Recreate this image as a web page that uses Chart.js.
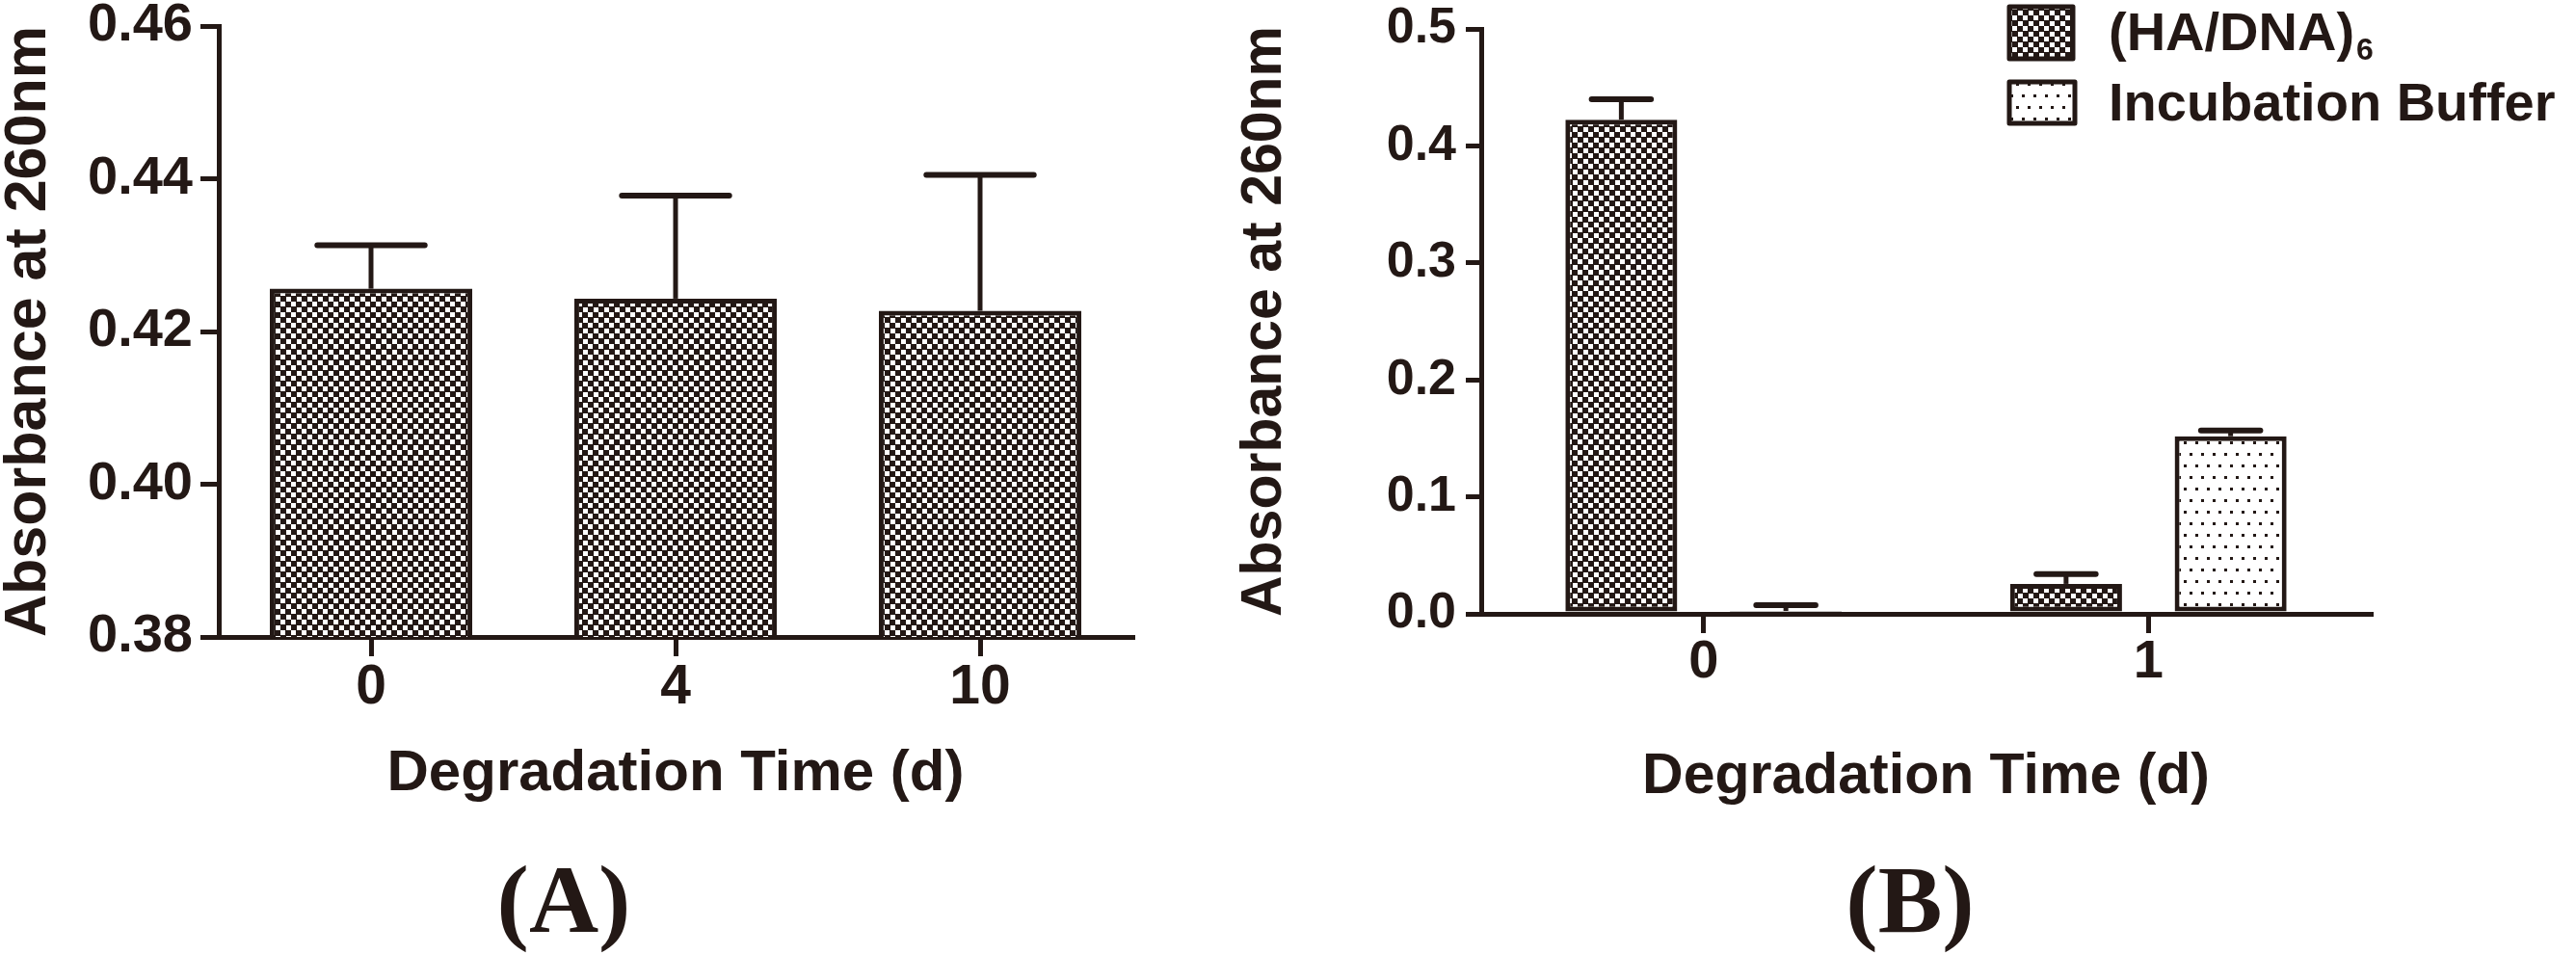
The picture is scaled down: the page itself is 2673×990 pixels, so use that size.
<!DOCTYPE html>
<html>
<head>
<meta charset="utf-8">
<script src="https://cdn.jsdelivr.net/npm/chart.js@4.4.1/dist/chart.umd.min.js"></script>
<style>
  html, body { margin: 0; padding: 0; background: #fff; }
  body { width: 2673px; height: 990px; position: relative; overflow: hidden; }
  canvas { position: absolute; top: 0; }
  #chartA { left: 0; }
  #chartB { left: 1280px; }
  .panel {
    position: absolute; top: 884px; width: 300px; text-align: center;
    font-family: "Liberation Serif", "Times New Roman", serif;
    font-weight: bold; font-size: 100px; line-height: 100px; color: #231815;
  }
</style>
</head>
<body>
<canvas id="chartA" width="1280" height="850"></canvas>
<canvas id="chartB" width="1393" height="850"></canvas>
<div class="panel" style="left:435px">(A)</div>
<div class="panel" style="left:1832px">(B)</div>
<script>
// panel A data
const daysA = ['0', '4', '10'];
const meanA = [0.4256, 0.4243, 0.4227];
const sdA = [0.0057, 0.0135, 0.0178];
const ticksA = [0.38, 0.40, 0.42, 0.44, 0.46];

// panel B data
const daysB = ['0', '1'];
const seriesB = ['(HA/DNA)', 'Incubation Buffer'];
const seriesSub = ['6', ''];
const meanHA = [0.4224, 0.0256];
const sdHA = [0.0174, 0.0084];
const meanBuffer = [0.0025, 0.1518];
const sdBuffer = [0.0049, 0.0049];
const ticksB = [0, 0.1, 0.2, 0.3, 0.4, 0.5];

const INK = '#231815';
const SANS = '"Liberation Sans", Arial, sans-serif';

function font(size) {
    return { family: SANS, weight: 'bold', size: size, lineHeight: 1 };
}

//checker fill
function checkerPattern() {
    const c = document.createElement('canvas');
    c.width = 11; c.height = 11;
    const g = c.getContext('2d');
    g.fillStyle = INK;
    g.fillRect(0, 0, 11, 11);
    g.fillStyle = '#fff';
    g.fillRect(0, 0, 5, 5);
    g.fillRect(5, 5, 5, 5);
    return g.createPattern(c, 'repeat');
}

//dotted fill
function dotPattern() {
    const c = document.createElement('canvas');
    c.width = 12; c.height = 24;
    const g = c.getContext('2d');
    g.fillStyle = '#fff';
    g.fillRect(0, 0, 12, 24);
    g.fillStyle = INK;
    g.fillRect(2, 2, 3, 3);
    g.fillRect(8, 14, 3, 3);
    return g.createPattern(c, 'repeat');
}

const checker = checkerPattern();
const dots = dotPattern();

// upper error bars, SD read from dataset.sd
const errorBars = {
    id: 'errorBars',
    afterDatasetsDraw(chart) {
        const ctx = chart.ctx;
        const y = chart.scales.y;
        chart.data.datasets.forEach((ds, i) => {
            const meta = chart.getDatasetMeta(i);
            meta.data.forEach((bar, j) => {
                const top = y.getPixelForValue(ds.data[j] + ds.sd[j]);
                const half = bar.width * 0.265;
                ctx.save();
                ctx.strokeStyle = INK;
                ctx.lineWidth = 5;
                ctx.beginPath();
                ctx.moveTo(bar.x, bar.y);
                ctx.lineTo(bar.x, top);
                ctx.stroke();
                ctx.lineWidth = 6;
                ctx.lineCap = 'round';
                ctx.beginPath();
                ctx.moveTo(bar.x - half, top);
                ctx.lineTo(bar.x + half, top);
                ctx.stroke();
                ctx.restore();
            });
        });
    }
};

// legend of panel B with subscript
const legendB = {
    id: 'legendB',
    afterDraw(chart) {
        const ctx = chart.ctx;
        const rows = [
            { box: [805, 7, 66, 54], base: 52 },
            { box: [805, 85, 68, 43], base: 125 }
        ];
        chart.data.datasets.forEach((ds, i) => {
            const r = rows[i];
            ctx.save();
            ctx.fillStyle = ds.backgroundColor;
            ctx.fillRect(r.box[0], r.box[1], r.box[2], r.box[3]);
            ctx.strokeStyle = INK;
            ctx.lineWidth = 5;
            ctx.lineJoin = 'round';
            ctx.strokeRect(r.box[0], r.box[1], r.box[2], r.box[3]);
            ctx.fillStyle = INK;
            ctx.textBaseline = 'alphabetic';
            ctx.font = 'bold 56px ' + SANS;
            ctx.fillText(seriesB[i], 908, r.base);
            if (seriesSub[i]) {
                const w = ctx.measureText(seriesB[i]).width;
                ctx.font = 'bold 32px ' + SANS;
                ctx.fillText(seriesSub[i], 908 + w + 2, r.base + 10);
            }
            ctx.restore();
        });
    }
};

function axes(opt) {
    return {
        x: {
            afterFit: s => { s.height = opt.xHeight; s.paddingLeft = 0; s.paddingRight = 0; },
            ticks: { font: font(opt.xTickSize), color: INK, padding: opt.xPad },
            grid: { offset: false, drawOnChartArea: false, drawTicks: true, tickLength: 20, lineWidth: 5, color: INK },
            border: { display: true, width: 5, color: INK },
            title: { display: true, text: 'Degradation Time (d)', font: font(opt.xTitleSize), color: INK, padding: 0 }
        },
        y: {
            min: opt.ticks[0],
            max: opt.ticks[opt.ticks.length - 1],
            afterBuildTicks: s => { s.ticks = opt.ticks.map(v => ({ value: v })); },
            afterFit: s => { s.width = opt.yWidth; s.paddingTop = 0; s.paddingBottom = 0; },
            ticks: { callback: v => v.toFixed(opt.digits), font: font(opt.yTickSize), color: INK, padding: opt.yPad },
            grid: { drawOnChartArea: false, drawTicks: true, tickLength: opt.yTick, lineWidth: 5, color: INK },
            border: { display: true, width: 5, color: INK },
            title: { display: true, text: 'Absorbance at 260nm', font: font(opt.yTitleSize), color: INK, padding: { top: opt.yTitlePad, bottom: 0 } }
        }
    };
}

new Chart(document.getElementById('chartA'), {
    type: 'bar',
    data: {
        labels: daysA,
        datasets: [{
            label: 'Absorbance',
            data: meanA,
            sd: sdA,
            backgroundColor: checker,
            borderColor: INK,
            borderWidth: 5,
            borderSkipped: false,
            categoryPercentage: 1,
            barPercentage: 0.665
        }]
    },
    options: {
        responsive: false,
        animation: false,
        events: [],
        layout: { padding: { left: 0, top: 27, right: 105, bottom: 17 } },
        plugins: { legend: { display: false }, tooltip: { enabled: false } },
        scales: axes({
            xHeight: 172, xTickSize: 57, xPad: 5, xTitleSize: 60,
            ticks: ticksA, digits: 2, yWidth: 227, yTickSize: 56, yPad: 8, yTick: 19,
            yTitleSize: 61, yTitlePad: 0
        })
    },
    plugins: [errorBars]
});

new Chart(document.getElementById('chartB'), {
    type: 'bar',
    data: {
        labels: daysB,
        datasets: [{
            label: seriesB[0] + seriesSub[0],
            data: meanHA,
            sd: sdHA,
            backgroundColor: checker,
            borderColor: INK,
            borderWidth: 5,
            borderSkipped: false,
            categoryPercentage: 0.74,
            barPercentage: 0.68
        }, {
            label: seriesB[1],
            data: meanBuffer,
            sd: sdBuffer,
            backgroundColor: dots,
            borderColor: INK,
            borderWidth: 5,
            borderSkipped: false,
            categoryPercentage: 0.74,
            barPercentage: 0.68
        }]
    },
    options: {
        responsive: false,
        animation: false,
        events: [],
        layout: { padding: { left: 0, top: 30, right: 213, bottom: 14 } },
        plugins: { legend: { display: false }, tooltip: { enabled: false } },
        scales: axes({
            xHeight: 199, xTickSize: 56, xPad: 3, xTitleSize: 59,
            ticks: ticksB, digits: 1, yWidth: 257, yTickSize: 52, yPad: 10, yTick: 16,
            yTitleSize: 59, yTitlePad: 3
        })
    },
    plugins: [errorBars, legendB]
});
</script>
</body>
</html>
